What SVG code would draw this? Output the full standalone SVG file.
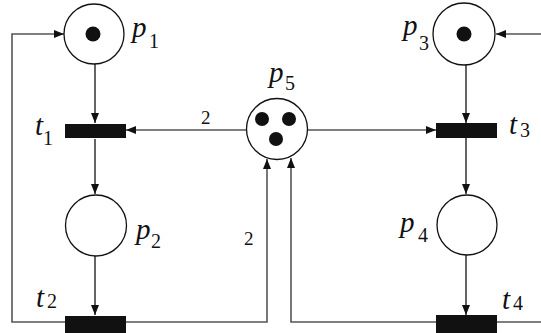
<svg xmlns="http://www.w3.org/2000/svg" width="541" height="333" viewBox="0 0 541 333" font-family="Liberation Serif, Times New Roman, serif">
<style>
.place{fill:#fff;stroke:#111;stroke-width:1.3}
.tok{fill:#111}
.tr{fill:#111}
.arc{fill:none;stroke:#111;stroke-width:1.3}
.arcg{fill:none;stroke:#555;stroke-width:1.6}
.lbl{font-style:italic;font-size:29px;fill:#111}
.sub{font-style:normal;font-size:20px;fill:#111}
.w{font-size:19px;fill:#111}
</style>
<defs>
<marker id="ah" markerUnits="userSpaceOnUse" markerWidth="11" markerHeight="8" refX="10" refY="4" orient="auto">
<path d="M0,0 L10,4 L0,8 z" fill="#111"/>
</marker>
</defs>
<rect width="541" height="333" fill="#fff"/>
<g id="connectors">
<line class="arc" x1="95" y1="64" x2="95" y2="123" marker-end="url(#ah)"/>
<line class="arc" x1="95" y1="139" x2="95" y2="194" marker-end="url(#ah)"/>
<line class="arc" x1="95" y1="256" x2="95" y2="315" marker-end="url(#ah)"/>
<polyline class="arcg" points="65,322 12,322 12,34 64,34" marker-end="url(#ah)"/>
<polyline class="arcg" points="126,322 267,322 267,159" marker-end="url(#ah)"/>
<polyline class="arcg" points="436,322 291,322 291,158" marker-end="url(#ah)"/>
<line class="arcg" x1="246" y1="130" x2="126" y2="130" marker-end="url(#ah)"/>
<line class="arcg" x1="308" y1="130" x2="436" y2="130" marker-end="url(#ah)"/>
<line class="arc" x1="466" y1="64" x2="466" y2="123" marker-end="url(#ah)"/>
<line class="arc" x1="466" y1="138" x2="466" y2="194" marker-end="url(#ah)"/>
<line class="arc" x1="466" y1="255" x2="466" y2="315" marker-end="url(#ah)"/>
<polyline class="arcg" points="497,322 543,322 543,34 496,34" marker-end="url(#ah)"/>
<text class="w" x="201" y="124" font-family="Liberation Serif">2</text>
<text class="w" x="244" y="245" font-family="Liberation Serif">2</text>
</g>
<g id="p1">
<circle class="place" cx="94" cy="34" r="30"/>
<circle class="tok" cx="93" cy="34" r="7.5"/>
<text class="lbl" x="132" y="37" font-family="Liberation Serif">p</text><text class="sub" x="149" y="48" font-family="Liberation Serif">1</text>
</g>
<g id="p2">
<circle class="place" cx="96" cy="225.5" r="30.5"/>
<text class="lbl" x="136" y="239" font-family="Liberation Serif">p</text><text class="sub" x="151" y="248" font-family="Liberation Serif">2</text>
</g>
<g id="p3">
<circle class="place" cx="464" cy="34" r="31"/>
<circle class="tok" cx="464" cy="34" r="7.5"/>
<text class="lbl" x="403" y="35" font-family="Liberation Serif">p</text><text class="sub" x="419" y="50" font-family="Liberation Serif">3</text>
</g>
<g id="p4">
<circle class="place" cx="467" cy="225" r="30"/>
<text class="lbl" x="400" y="232" font-family="Liberation Serif">p</text><text class="sub" x="418" y="242" font-family="Liberation Serif">4</text>
</g>
<g id="p5">
<circle class="place" cx="277" cy="129" r="30.5"/>
<circle class="tok" cx="262" cy="119" r="7"/>
<circle class="tok" cx="289" cy="119" r="7"/>
<circle class="tok" cx="276" cy="139" r="7"/>
<text class="lbl" x="269" y="82" font-family="Liberation Serif">p</text><text class="sub" x="285" y="90" font-family="Liberation Serif">5</text>
</g>
<g id="t1">
<rect class="tr" x="65" y="124" width="61" height="14"/>
<text class="lbl" x="35" y="135" font-family="Liberation Serif">t</text><text class="sub" x="43" y="145" font-family="Liberation Serif">1</text>
</g>
<g id="t2">
<rect class="tr" x="65" y="316" width="61" height="17"/>
<text class="lbl" x="36" y="307" font-family="Liberation Serif">t</text><text class="sub" x="47" y="308" font-family="Liberation Serif">2</text>
</g>
<g id="t3">
<rect class="tr" x="436" y="123" width="61" height="15"/>
<text class="lbl" x="509" y="134" font-family="Liberation Serif">t</text><text class="sub" x="520" y="137" font-family="Liberation Serif">3</text>
</g>
<g id="t4">
<rect class="tr" x="436" y="315" width="61" height="18"/>
<text class="lbl" x="502" y="309" font-family="Liberation Serif">t</text><text class="sub" x="513" y="310" font-family="Liberation Serif">4</text>
</g>
</svg>
